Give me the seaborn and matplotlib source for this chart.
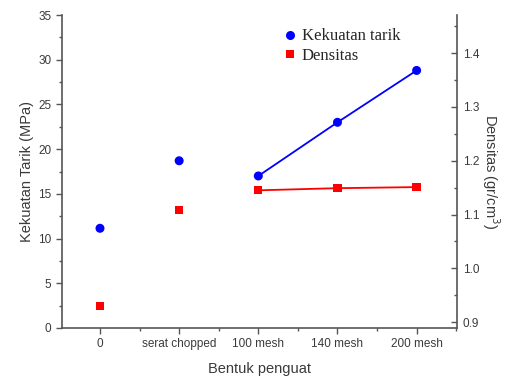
import matplotlib
matplotlib.use("Agg")
import matplotlib.pyplot as plt
from matplotlib.lines import Line2D
from matplotlib.ticker import MultipleLocator
import seaborn as sns
import pandas as pd

categories = ["0", "serat chopped", "100 mesh", "140 mesh", "200 mesh"]
kekuatan_tarik = [11.15, 18.7, 17.0, 23.0, 28.8]
densitas = [0.930, 1.108, 1.145, 1.149, 1.151]

sns.set_style("ticks")
plt.rcParams["font.family"] = ["Liberation Sans", "DejaVu Sans"]

pos = list(range(len(categories)))
df = pd.DataFrame({"pos": pos, "kategori": categories,
                   "tarik": kekuatan_tarik, "densitas": densitas})
mesh = df[df["kategori"].str.contains("mesh")]

fig = plt.figure(figsize=(5.13, 3.76), dpi=100)
ax = fig.add_axes([62 / 513, 48 / 376, 395 / 513, 313 / 376])
ax2 = ax.twinx()

blue = "#0000FF"
red = "#FF0000"
spine_c = "#555555"
text_c = "#3a3a3a"

# tensile strength (left axis)
sns.lineplot(data=mesh, x="pos", y="tarik", ax=ax, color=blue, lw=1.3)
sns.scatterplot(data=df, x="pos", y="tarik", ax=ax, color=blue, s=42,
                marker="o", edgecolor="none", zorder=3)

# density (right axis)
sns.lineplot(data=mesh, x="pos", y="densitas", ax=ax2, color=red, lw=1.3)
sns.scatterplot(data=df, x="pos", y="densitas", ax=ax2, color=red, s=36,
                marker="s", edgecolor="none", zorder=3)

ax.set_xlim(-0.48, 4.51)
ax.set_ylim(0, 35)
ax2.set_ylim(0.889, 1.471)

ax.set_xticks(pos)
ax.set_xticklabels(categories)
ax.xaxis.set_minor_locator(MultipleLocator(0.5))
ax.yaxis.set_major_locator(MultipleLocator(5))
ax.yaxis.set_minor_locator(MultipleLocator(2.5))
ax2.yaxis.set_major_locator(MultipleLocator(0.1))
ax2.yaxis.set_minor_locator(MultipleLocator(0.05))
ax2.set_yticklabels([f"{v:.1f}" for v in ax2.get_yticks()])

for a in (ax, ax2):
    for s in a.spines.values():
        s.set_color(spine_c)
        s.set_linewidth(1.2)
    a.spines["top"].set_visible(False)

ax.spines["right"].set_visible(False)
ax2.spines["left"].set_visible(False)
ax2.spines["bottom"].set_visible(False)

ax.tick_params(axis="both", which="major", direction="out", length=4,
               width=1, color=spine_c, labelsize=8.5, labelcolor=text_c)
ax.tick_params(axis="both", which="minor", direction="out", length=2.5,
               width=1, color=spine_c)
ax2.tick_params(axis="y", which="major", direction="in", length=4,
                width=1, color=spine_c, labelsize=8.5, labelcolor=text_c, pad=4)
ax2.tick_params(axis="y", which="minor", direction="in", length=2.5,
                width=1, color=spine_c)

ax.set_xlabel("Bentuk penguat", fontsize=10.5, color=text_c, labelpad=8)
ax.set_ylabel("Kekuatan Tarik (MPa)", fontsize=10.5, color=text_c, labelpad=3)
ax2.set_ylabel("Densitas (gr/cm$^3$)", fontsize=10.5, color=text_c,
               rotation=270, labelpad=16)

handles = [
    Line2D([], [], ls="none", marker="o", color=blue, markersize=6.5,
           markeredgewidth=0),
    Line2D([], [], ls="none", marker="s", color=red, markersize=6,
           markeredgewidth=0),
]
ax.legend(handles, ["Kekuatan tarik", "Densitas"], loc="upper left",
          bbox_to_anchor=(0.527, 1.005), frameon=False, handlelength=0.6,
          handletextpad=0.4, labelspacing=0.2,
          prop={"family": ["Liberation Serif"], "size": 12})

fig.savefig("out.png", dpi=100)
